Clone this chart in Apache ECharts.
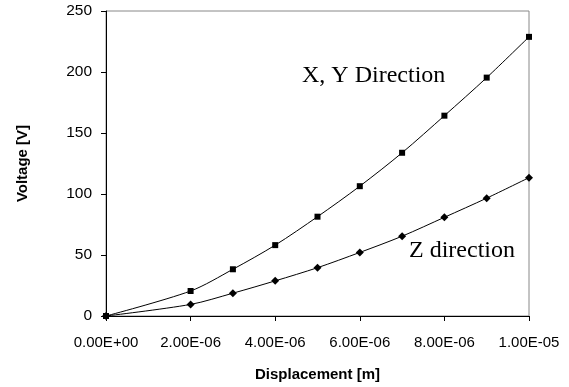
<!DOCTYPE html>
<html><head><meta charset="utf-8">
<script src="https://cdn.jsdelivr.net/npm/echarts@6/dist/echarts.min.js"></script>
<style>html,body{margin:0;padding:0;background:#fff}#c{width:569px;height:387px}</style>
</head><body><div id="c"></div>
<script>
const displacement = [0, 2e-6, 3e-6, 4e-6, 5e-6, 6e-6, 7e-6, 8e-6, 9e-6, 1e-5];
const xyVoltage = [0, 20.5, 38.3, 58.1, 81.4, 106.4, 133.8, 164.2, 195.4, 228.8];
const zVoltage = [0, 9.5, 18.7, 28.8, 39.6, 52.1, 65.4, 80.9, 96.6, 113.4];
const xyLabel = 'X, Y Direction';
const zLabel = 'Z direction';

function fmtE(v) {
  let s = Number(v).toExponential(2);
  let [m, e] = s.split('e');
  let sign = e[0] === '-' ? '-' : '+';
  let d = e.replace(/[+-]/, '');
  if (d.length < 2) d = '0' + d;
  return m + 'E' + sign + d;
}

const chart = echarts.init(document.getElementById('c'));
chart.setOption({
  animation: false,
  backgroundColor: '#fff',
  grid: {left: 106, top: 11, width: 423, height: 307, show: true, borderColor: '#888', borderWidth: 1},
  xAxis: {
    type: 'value', min: 0, max: 1e-5, interval: 2e-6,
    name: 'Displacement [m]', nameLocation: 'middle', nameGap: 51,
    nameTextStyle: {fontFamily: 'Liberation Sans', fontWeight: 'bold', fontSize: 15, color: '#000'},
    axisLine: {show: true, onZero: false, lineStyle: {color: '#000'}},
    axisTick: {show: true, inside: false, length: 5, lineStyle: {color: '#000'}},
    axisLabel: {formatter: fmtE, fontFamily: 'Liberation Sans', fontSize: 15, color: '#000', margin: 19},
    splitLine: {show: false}
  },
  yAxis: {
    type: 'value', min: 0, max: 250, interval: 50,
    name: 'Voltage [V]', nameLocation: 'middle', nameGap: 76,
    nameTextStyle: {fontFamily: 'Liberation Sans', fontWeight: 'bold', fontSize: 15, color: '#000'},
    axisLine: {show: true, lineStyle: {color: '#000'}},
    axisTick: {show: true, inside: false, length: 5, lineStyle: {color: '#000'}},
    axisLabel: {fontFamily: 'Liberation Sans', fontSize: 15.5, color: '#000', margin: 14},
    splitLine: {show: false}
  },
  series: [
    {type: 'line', name: xyLabel, smooth: 0.3, data: displacement.map((x, i) => [x, xyVoltage[i]]),
     symbol: 'rect', symbolSize: 6, itemStyle: {color: '#000'}, lineStyle: {color: '#000', width: 1}},
    {type: 'line', name: zLabel, smooth: 0.3, data: displacement.map((x, i) => [x, zVoltage[i]]),
     symbol: 'diamond', symbolSize: 8, itemStyle: {color: '#000'}, lineStyle: {color: '#000', width: 1}}
  ],
  graphic: [
    {type: 'text', left: 302, top: 64, style: {text: xyLabel, font: '24px "Liberation Serif"', fill: '#000'}},
    {type: 'text', left: 409, top: 239, style: {text: zLabel, font: '24px "Liberation Serif"', fill: '#000'}}
  ]
});
</script></body></html>
